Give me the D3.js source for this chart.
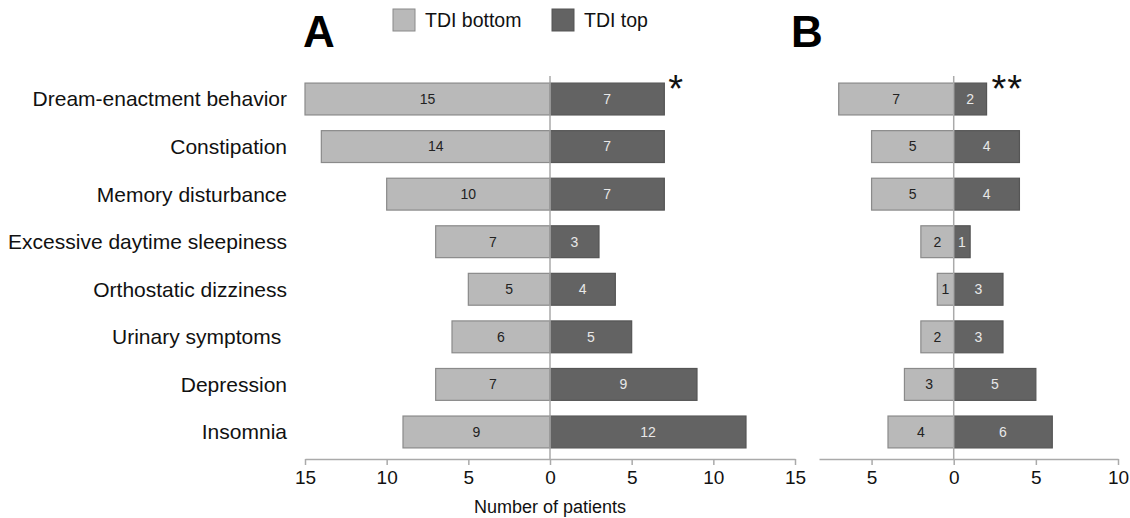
<!DOCTYPE html>
<html>
<head>
<meta charset="utf-8">
<script src="https://cdn.jsdelivr.net/npm/d3@7"></script>
<style>
  body { margin: 0; background: #fff; }
  text { font-family: "Liberation Sans", Arial, sans-serif; }
</style>
</head>
<body>
<div id="chart"></div>
<script>
// Data
let symptoms = ["Dream-enactment behavior", "Constipation", "Memory disturbance",
    "Excessive daytime sleepiness", "Orthostatic dizziness", "Urinary symptoms\u00a0",
    "Depression", "Insomnia"];
let bottomA = [15, 14, 10, 7, 5, 6, 7, 9];
let topA = [7, 7, 7, 3, 4, 5, 9, 12];
let bottomB = [7, 5, 5, 2, 1, 2, 3, 4];
let topB = [2, 4, 4, 1, 3, 3, 5, 6];
let ticksA = [-15, -10, -5, 0, 5, 10, 15];
let ticksB = [-5, 0, 5, 10];

let svgWidth = 1130;
let svgHeight = 518;

let lightFill = "#b9b9b9", lightStroke = "#8a8a8a";
let darkFill = "#636363", darkStroke = "#555";

let svg = d3.select("#chart")
    .append("svg")
    .attr("width", svgWidth)
    .attr("height", svgHeight);

// shared band scale for rows
let yScale = d3.scaleBand()
    .domain(symptoms)
    .range([75, 456])
    .paddingInner(0.33)
    .paddingOuter(0.17);

let axisY = 459;

function drawPanel(xScale, bottoms, tops, ticks) {
    let g = svg.append("g");

    // bars left (TDI bottom)
    g.selectAll(".bl").data(symptoms).enter().append("rect")
        .attr("x", (d, i) => xScale(-bottoms[i]))
        .attr("y", d => yScale(d))
        .attr("width", (d, i) => xScale(0) - xScale(-bottoms[i]))
        .attr("height", yScale.bandwidth())
        .attr("fill", lightFill)
        .attr("stroke", lightStroke)
        .attr("stroke-width", 1.2);

    // bars right (TDI top)
    g.selectAll(".br").data(symptoms).enter().append("rect")
        .attr("x", xScale(0))
        .attr("y", d => yScale(d))
        .attr("width", (d, i) => xScale(tops[i]) - xScale(0))
        .attr("height", yScale.bandwidth())
        .attr("fill", darkFill)
        .attr("stroke", darkStroke)
        .attr("stroke-width", 1.2);

    // value labels
    g.selectAll(".tl").data(symptoms).enter().append("text")
        .attr("x", (d, i) => (xScale(-bottoms[i]) + xScale(0)) / 2)
        .attr("y", d => yScale(d) + yScale.bandwidth() / 2)
        .attr("dy", "0.35em")
        .attr("text-anchor", "middle")
        .attr("font-size", 14)
        .attr("fill", "#222")
        .text((d, i) => bottoms[i]);

    g.selectAll(".tr").data(symptoms).enter().append("text")
        .attr("x", (d, i) => (xScale(tops[i]) + xScale(0)) / 2)
        .attr("y", d => yScale(d) + yScale.bandwidth() / 2)
        .attr("dy", "0.35em")
        .attr("text-anchor", "middle")
        .attr("font-size", 14)
        .attr("fill", "#e8e8e8")
        .text((d, i) => tops[i]);

    // zero line
    g.append("line")
        .attr("x1", xScale(0)).attr("x2", xScale(0))
        .attr("y1", 76).attr("y2", axisY)
        .attr("stroke", "#aaa")
        .attr("stroke-width", 1.5);

    // x axis
    let bottomAxis = d3.axisBottom(xScale)
        .tickValues(ticks)
        .tickSize(6)
        .tickSizeOuter(0)
        .tickFormat(d => Math.abs(d));

    let xAxis = g.append("g")
        .attr("transform", `translate(0,${axisY})`)
        .call(bottomAxis);

    xAxis.select(".domain").attr("stroke", "#aaa").attr("stroke-width", 1.5);
    xAxis.selectAll(".tick line").attr("stroke", "#aaa").attr("stroke-width", 1.5);
    xAxis.selectAll(".tick text")
        .attr("font-size", 19)
        .attr("fill", "#111")
        .attr("y", 12)
        .attr("font-family", "'Liberation Sans', Arial, sans-serif");

    return g;
}

let xA = d3.scaleLinear().domain([-15, 15]).range([305, 795]);
let xB = d3.scaleLinear().domain([-8.2, 10]).range([819, 1118]);

drawPanel(xA, bottomA, topA, ticksA);
drawPanel(xB, bottomB, topB, ticksB);

// category labels
svg.selectAll(".cat").data(symptoms).enter().append("text")
    .attr("x", 287)
    .attr("y", d => yScale(d) + yScale.bandwidth() / 2)
    .attr("dy", "0.35em")
    .attr("text-anchor", "end")
    .attr("font-size", 21)
    .attr("fill", "#111")
    .text(d => d);

// axis title
svg.append("text")
    .attr("x", xA(0))
    .attr("y", 513)
    .attr("text-anchor", "middle")
    .attr("font-size", 18)
    .attr("fill", "#111")
    .text("Number of patients");

// panel letters
svg.append("text")
    .attr("x", 303).attr("y", 47)
    .attr("font-size", 44).attr("font-weight", "bold")
    .attr("fill", "#000")
    .text("A");
svg.append("text")
    .attr("x", 791).attr("y", 47)
    .attr("font-size", 44).attr("font-weight", "bold")
    .attr("fill", "#000")
    .text("B");

// significance markers
svg.append("text")
    .attr("x", xA(topA[0]) + 4).attr("y", 102)
    .attr("font-size", 38).attr("fill", "#111")
    .text("*");
svg.append("text")
    .attr("x", xB(topB[0]) + 5).attr("y", 102)
    .attr("font-size", 38).attr("fill", "#111")
    .attr("letter-spacing", 1)
    .text("**");

// legend
let legendItems = [
    { label: "TDI bottom", fill: lightFill, stroke: lightStroke, x: 393 },
    { label: "TDI top", fill: darkFill, stroke: darkStroke, x: 552 }
];
let legend = svg.selectAll(".legend").data(legendItems).enter().append("g")
    .attr("transform", d => `translate(${d.x},9)`);
legend.append("rect")
    .attr("width", 22).attr("height", 22)
    .attr("fill", d => d.fill)
    .attr("stroke", d => d.stroke);
legend.append("text")
    .attr("x", 32).attr("y", 11)
    .attr("dy", "0.35em")
    .attr("font-size", 19.5)
    .attr("fill", "#111")
    .text(d => d.label);
</script>
</body>
</html>
